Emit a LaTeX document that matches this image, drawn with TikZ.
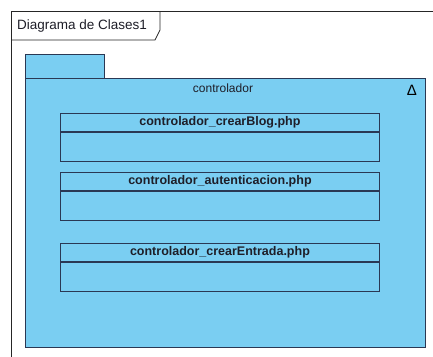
\documentclass[tikz,border=0pt]{standalone}
\usepackage{fontspec}
\setmainfont{Liberation Sans}
\definecolor{pkgblue}{RGB}{122,206,242}
\definecolor{pkgline}{RGB}{42,56,84}
\definecolor{txtgray}{RGB}{30,30,40}

\begin{document}
\begin{tikzpicture}[x=1pt,y=-1pt]
\tikzstyle{every node}+=[inner sep=0pt]
\tikzstyle{pkg}=[draw=pkgline,fill=pkgblue,line width=0.9pt,anchor=north west]
\tikzstyle{clshead}=[draw=pkgline,fill=pkgblue,line width=0.9pt,anchor=north west,minimum width=319pt,minimum height=18pt,font=\fontsize{12.5}{14}\selectfont\bfseries,text=txtgray]
\tikzstyle{clsbody}=[draw=pkgline,fill=pkgblue,line width=0.9pt,anchor=north west,minimum width=319pt,minimum height=29pt]
\useasboundingbox (0,0) rectangle (433,356);
\fill [white] (0,0) rectangle (433,356);
% frame
\draw [black!85,line width=0.8pt] (11,360) -- (11,11) -- (440,11);
\draw [black!85,line width=0.8pt] (11,40) -- (155,40) -- (160,30) -- (160,11);
\node [anchor=west,font=\fontsize{13.5}{16}\selectfont,text=txtgray] (title) at (17,26) {Diagrama de Clases1};
% package
\node [pkg,minimum width=79pt,minimum height=24pt] (tab) at (25,54) {};
\node [pkg,minimum width=400pt,minimum height=269pt] (pkgbody) at (25,78) {};
\node [font=\fontsize{12}{14}\selectfont,text=txtgray] (pkgname) at (223,88) {controlador};
\node [font=\fontsize{15}{16}\selectfont,text=black] (tri) at (412,90) {Δ};
% classes
\node [clshead] (blog) at (60,113) {controlador\_crearBlog.php};
\node [clsbody] (blogbody) at (blog.south west) {};
\node [clshead] (auth) at (60,172) {controlador\_autenticacion.php};
\node [clsbody] (authbody) at (auth.south west) {};
\node [clshead] (entrada) at (60,243) {controlador\_crearEntrada.php};
\node [clsbody] (entradabody) at (entrada.south west) {};
\end{tikzpicture}
\end{document}
